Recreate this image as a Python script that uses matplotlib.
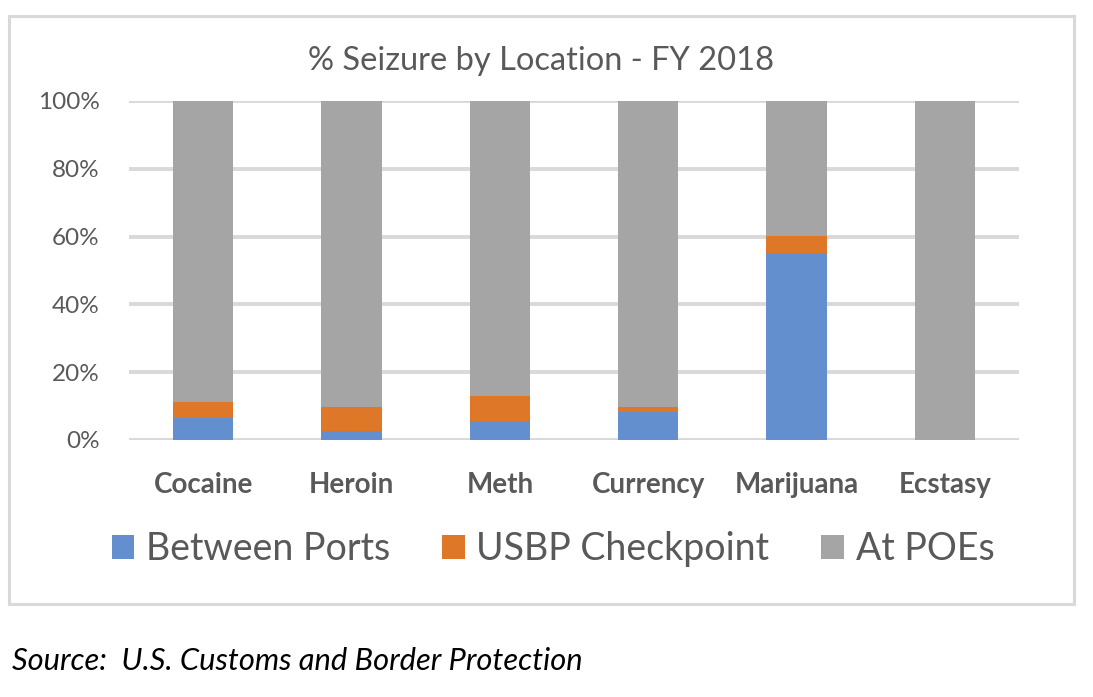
import matplotlib
matplotlib.use('Agg')
from matplotlib import pyplot as plt
from matplotlib.patches import Rectangle
import numpy as np

plt.rcParams['font.family'] = ['Lato', 'DejaVu Sans']

# data (percent of seizures)
categories = ['Cocaine', 'Heroin', 'Meth', 'Currency', 'Marijuana', 'Ecstasy']
between_ports = [6.5, 2.7, 5.6, 8.3, 54.9, 0.0]
usbp_checkpoint = [4.7, 7.0, 7.5, 1.5, 5.4, 0.0]
at_poes = [100 - a - b for a, b in zip(between_ports, usbp_checkpoint)]
series_names = ['Between Ports', 'USBP Checkpoint', 'At POEs']
yticks = [0, 20, 40, 60, 80, 100]

colors = ['#638fcf', '#df7728', '#a5a5a5']
grid_col = '#d9d9d9'
txt_col = '#595959'

fig = plt.figure(figsize=(10.93, 6.97), dpi=100, facecolor='white')
ax = fig.add_axes([129/1093, 1 - 440/697, 890/1093, 339/697])

x = np.arange(len(categories))
w = 0.405
b1 = np.array(between_ports)
b2 = np.array(usbp_checkpoint)
b3 = np.array(at_poes)
h1 = ax.bar(x, b1, w, color=colors[0], zorder=3)
h2 = ax.bar(x, b2, w, bottom=b1, color=colors[1], zorder=3)
h3 = ax.bar(x, b3, w, bottom=b1 + b2, color=colors[2], zorder=3)

ax.set_xlim(-0.5, len(categories) - 0.5)
ax.set_ylim(0, 100)
ax.set_yticks(yticks)
ax.set_yticklabels([f'{t}%' for t in yticks], fontsize=17.5, color=txt_col)
ax.set_xticks(x)
ax.set_xticklabels(categories, fontsize=20, fontweight='bold', color=txt_col)
ax.tick_params(axis='y', length=0, pad=21)
ax.tick_params(axis='x', length=0, pad=23)
ax.yaxis.grid(True, color=grid_col, linewidth=2.8, zorder=0)
for s in ax.spines.values():
    s.set_visible(False)
ax.set_axisbelow(True)

fig.text(541/1093, 1 - 61/697, '% Seizure by Location - FY 2018', ha='center', va='center',
         fontsize=23.5, color=txt_col)

fig.legend([h1, h2, h3], series_names, loc='center', bbox_to_anchor=(553/1093, 1 - 549/697),
           ncol=3, frameon=False, fontsize=27, labelcolor=txt_col, handlelength=0.6,
           handleheight=0.6, handletextpad=0.32, columnspacing=1.38)

# outer chart border
fig.patches.append(Rectangle((9/1093, 1 - 604/697), 1065/1093, 588/697, transform=fig.transFigure,
                             fill=False, edgecolor=grid_col, linewidth=2.2))

fig.text(12/1093, 1 - 661/697, 'Source:  U.S. Customs and Border Protection', ha='left', va='center',
         fontsize=22.2, style='italic', color='black')

fig.savefig('out.png', dpi=100)
